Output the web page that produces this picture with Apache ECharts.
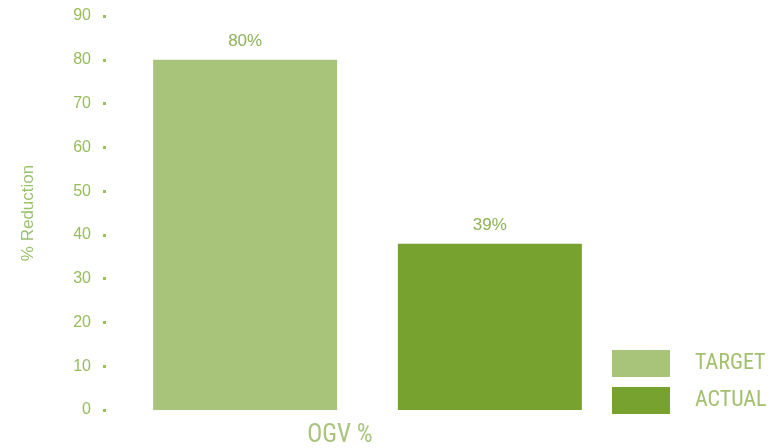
<!DOCTYPE html>
<html><head><meta charset="utf-8">
<script src="https://cdn.jsdelivr.net/npm/echarts@6/dist/echarts.min.js"></script>
<style>html,body{margin:0;padding:0;background:#fff}#c{width:780px;height:448px}</style>
</head><body><div id="c"></div>
<script>
const categories = ['OGV %'];
const seriesNames = ['TARGET', 'ACTUAL'];
const targetValues = [80];
const actualValues = [38];
const barLabels = { TARGET: ['80%'], ACTUAL: ['39%'] };
const yTicks = [0, 10, 20, 30, 40, 50, 60, 70, 80, 90];

const chart = echarts.init(document.getElementById('c'));
const narrow = "'Liberation Sans Narrow', 'Roboto Condensed', 'DejaVu Sans Condensed', 'Liberation Sans', sans-serif";
function mkLabel(name) {
  return {
    show: true, position: 'top', distance: 10,
    color: '#8cb356', fontSize: 17, fontFamily: 'Liberation Sans, Arial, sans-serif',
    formatter: p => barLabels[name][p.dataIndex]
  };
}
chart.setOption({
  animation: false,
  grid: { left: 106, right: 151, top: 16, bottom: 33 },
  legend: {
    orient: 'vertical', left: 607, top: 345,
    itemWidth: 58, itemHeight: 27, itemGap: 10,
    icon: 'rect',
    data: seriesNames,
    textStyle: { color: '#a2c06f', fontSize: 22, fontFamily: narrow, padding: [0, 0, 0, 20] }
  },
  xAxis: {
    type: 'category', data: categories,
    axisLine: { show: false }, axisTick: { show: false },
    axisLabel: { color: '#a9c47f', fontSize: 25, fontFamily: narrow, margin: 13, padding: [0, 55, 0, 0] }
  },
  yAxis: {
    type: 'value', min: yTicks[0], max: yTicks[yTicks.length - 1], interval: 10,
    name: '% Reduction', nameLocation: 'middle', nameGap: 69,
    nameTextStyle: { color: '#9dc06b', fontSize: 17, fontFamily: 'Liberation Sans, Arial, sans-serif' },
    axisLine: { show: false },
    axisTick: { show: true, length: 3, lineStyle: { color: '#9abd66', width: 3 } },
    splitLine: { show: false },
    axisLabel: { color: '#97bb5e', fontSize: 16, margin: 15, fontFamily: 'Liberation Sans, Arial, sans-serif' }
  },
  series: [
    { name: 'TARGET', type: 'bar', data: targetValues, barWidth: 184, barGap: '33%',
      itemStyle: { color: '#a8c37a' }, label: mkLabel('TARGET') },
    { name: 'ACTUAL', type: 'bar', data: actualValues, barWidth: 184,
      itemStyle: { color: '#78a22f' }, label: mkLabel('ACTUAL') }
  ]
});
</script></body></html>
